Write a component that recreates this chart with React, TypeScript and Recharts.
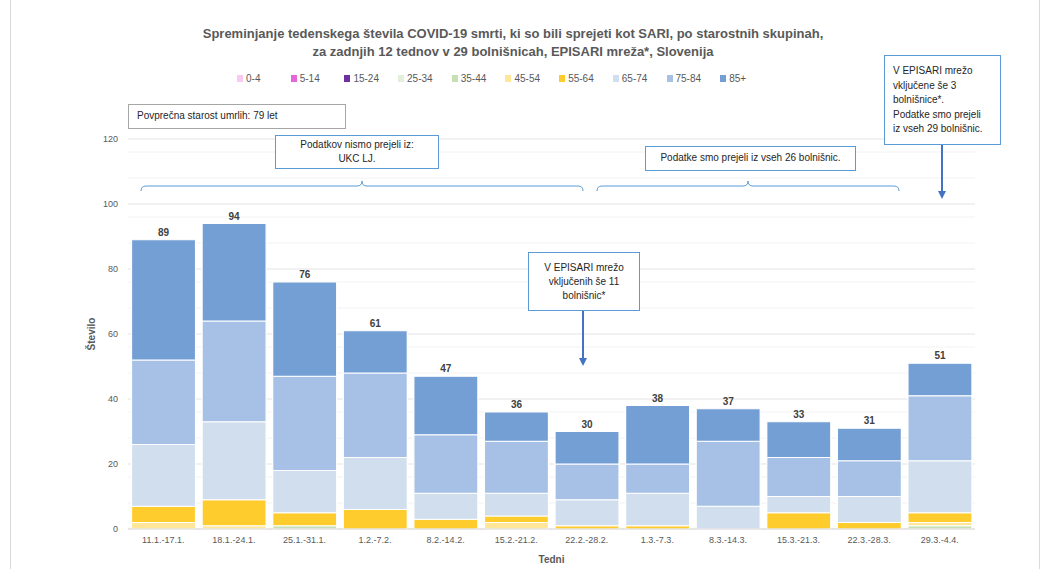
import React from 'react';
import { BarChart, Bar, XAxis, YAxis, CartesianGrid, LabelList } from 'recharts';

const weeks = ['11.1.-17.1.', '18.1.-24.1.', '25.1.-31.1.', '1.2.-7.2.', '8.2.-14.2.', '15.2.-21.2.', '22.2.-28.2.', '1.3.-7.3.', '8.3.-14.3.', '15.3.-21.3.', '22.3.-28.3.', '29.3.-4.4.'];

const age0_4 = [0, 0, 0, 0, 0, 0, 0, 0, 0, 0, 0, 0];
const age5_14 = [0, 0, 0, 0, 0, 0, 0, 0, 0, 0, 0, 0];
const age15_24 = [0, 0, 0, 0, 0, 0, 0, 0, 0, 0, 0, 0];
const age25_34 = [0, 0, 0, 0, 0, 0, 0, 0, 0, 0, 0, 0];
const age35_44 = [0, 0, 1, 0, 0, 0, 0, 0, 0, 0, 0, 1];
const age45_54 = [2, 1, 0, 0, 0, 2, 0, 0, 0, 0, 0, 1];
const age55_64 = [5, 8, 4, 6, 3, 2, 1, 1, 0, 5, 2, 3];
const age65_74 = [19, 24, 13, 16, 8, 7, 8, 10, 7, 5, 8, 16];
const age75_84 = [26, 31, 29, 26, 18, 16, 11, 9, 20, 12, 11, 20];
const age85 = [37, 30, 29, 13, 18, 9, 10, 18, 10, 11, 10, 10];
const totals = [89, 94, 76, 61, 47, 36, 30, 38, 37, 33, 31, 51];

const yTicks = [0, 20, 40, 60, 80, 100, 120];
const minorGrid = [4, 8, 12, 16, 24, 28, 32, 36, 44, 48, 52, 56, 64, 68, 72, 76, 84, 88, 92, 96, 104, 108, 112, 116];

const series = [
  { key: 'a0', name: '0-4', values: age0_4, color: '#f9c9f3' },
  { key: 'a5', name: '5-14', values: age5_14, color: '#e566d8' },
  { key: 'a15', name: '15-24', values: age15_24, color: '#7030a0' },
  { key: 'a25', name: '25-34', values: age25_34, color: '#e2efda' },
  { key: 'a35', name: '35-44', values: age35_44, color: '#c6e0b4' },
  { key: 'a45', name: '45-54', values: age45_54, color: '#ffe699' },
  { key: 'a55', name: '55-64', values: age55_64, color: '#ffcc2e' },
  { key: 'a65', name: '65-74', values: age65_74, color: '#d1deee' },
  { key: 'a75', name: '75-84', values: age75_84, color: '#a6c1e5' },
  { key: 'a85', name: '85+', values: age85, color: '#749fd5' },
];

const data = weeks.map((week, i) => {
  const row: Record<string, string | number> = { week, total: totals[i] };
  series.forEach((s) => { row[s.key] = s.values[i]; });
  return row;
});

const FONT = '"Liberation Sans", Arial, sans-serif';
const BLUE = '#5b9bd5';
const ARROW = '#4472c4';

function LegendRow() {
  return (
    <div style={{ display: 'flex', position: 'absolute', left: 237, top: 73 }}>
      {series.map((s) => (
        <div key={s.key} style={{ width: 53.7, display: 'flex', alignItems: 'center', fontSize: 10, color: '#595959', fontFamily: FONT }}>
          <span style={{ width: 6, height: 7, background: s.color, display: 'inline-block', marginRight: 3 }} />
          {s.name}
        </div>
      ))}
    </div>
  );
}

function brace(x1: number, x2: number, y: number) {
  const m = (x1 + x2) / 2;
  return `M ${x1} ${y + 5} Q ${x1} ${y} ${x1 + 5} ${y} L ${m - 5} ${y} Q ${m} ${y} ${m} ${y - 5} Q ${m} ${y} ${m + 5} ${y} L ${x2 - 5} ${y} Q ${x2} ${y} ${x2} ${y + 5}`;
}

const boxText: React.CSSProperties = {
  position: 'absolute',
  background: '#fff',
  fontFamily: FONT,
  fontSize: 10,
  color: '#262626',
  boxSizing: 'border-box',
  lineHeight: '14px',
};

export default function App() {
  return (
    <div style={{ position: 'absolute', left: 0, top: 0, width: 1058, height: 569, background: '#fff', overflow: 'hidden' }}>
      <div style={{ position: 'absolute', left: 10, top: -1, width: 1030, height: 572, border: '1px solid #d9d9d9', boxSizing: 'border-box' }} />
      <div style={{ position: 'absolute', left: 0, top: 25, width: 1026, textAlign: 'center', fontFamily: FONT, fontWeight: 'bold', fontSize: 13, color: '#595959', lineHeight: '18px' }}>
        Spreminjanje tedenskega števila COVID-19 smrti, ki so bili sprejeti kot SARI, po starostnih skupinah,<br />
        za zadnjih 12 tednov v 29 bolnišnicah, EPISARI mreža*, Slovenija
      </div>
      <LegendRow />
      <BarChart
        width={1058}
        height={569}
        data={data}
        margin={{ top: 139, right: 83, bottom: 0, left: 83 }}
        barCategoryGap="5%"
        style={{ position: 'absolute', left: 0, top: 0, fontFamily: FONT }}
      >
        <CartesianGrid vertical={false} horizontalValues={minorGrid} stroke="#f2f2f2" />
        <CartesianGrid vertical={false} horizontalValues={yTicks} stroke="#e3e3e3" />
        <XAxis
          dataKey="week"
          height={40}
          tickLine={false}
          tickSize={0}
          tickMargin={8}
          axisLine={{ stroke: '#d9d9d9' }}
          tick={{ fill: '#595959', fontSize: 9 }}
          interval={0}
          label={{ value: 'Tedni', position: 'insideBottom', offset: 6, fill: '#595959', fontSize: 10, fontWeight: 'bold' }}
        />
        <YAxis
          width={45}
          domain={[0, 120]}
          ticks={yTicks}
          tickLine={false}
          axisLine={false}
          tickSize={0}
          tickMargin={10}
          tick={{ fill: '#595959', fontSize: 9 }}
          label={{ value: 'Število', angle: -90, position: 'insideLeft', offset: 8, fill: '#595959', fontSize: 10, fontWeight: 'bold', style: { textAnchor: 'middle' } }}
        />
        {series.map((s) => (
          <Bar key={s.key} dataKey={s.key} name={s.name} stackId="a" fill={s.color} stroke="#fff" strokeWidth={1.2} isAnimationActive={false}>
            {s.key === 'a85' && (
              <LabelList dataKey="total" position="top" offset={4} fill="#404040" fontSize={10} fontWeight="bold" />
            )}
          </Bar>
        ))}
      </BarChart>

      <svg width={1058} height={569} style={{ position: 'absolute', left: 0, top: 0, pointerEvents: 'none' }}>
        <path d={brace(141, 583, 186)} fill="none" stroke={BLUE} strokeWidth={1} />
        <path d={brace(597, 899, 186)} fill="none" stroke={BLUE} strokeWidth={1} />
        <defs>
          <marker id="ah" markerWidth="8" markerHeight="8" refX="4" refY="4" orient="auto" markerUnits="userSpaceOnUse">
            <path d="M0,0 L8,4 L0,8 z" fill={ARROW} />
          </marker>
        </defs>
        <line x1={583} y1={311} x2={583} y2={362} stroke={ARROW} strokeWidth={2} markerEnd="url(#ah)" />
        <line x1={942} y1={145} x2={942} y2={195} stroke={ARROW} strokeWidth={2} markerEnd="url(#ah)" />
      </svg>

      <div style={{ ...boxText, left: 128, top: 104, width: 218, height: 25, border: '1px solid #a6a6a6', padding: '4px 8px' }}>
        Povprečna starost umrlih: 79 let
      </div>
      <div style={{ ...boxText, left: 275, top: 135, width: 164, height: 34, border: `1px solid ${BLUE}`, textAlign: 'center', paddingTop: 2 }}>
        Podatkov nismo prejeli iz:<br />UKC LJ.
      </div>
      <div style={{ ...boxText, left: 645, top: 146, width: 211, height: 25, border: `1px solid ${BLUE}`, textAlign: 'center', paddingTop: 4 }}>
        Podatke smo prejeli iz vseh 26 bolnišnic.
      </div>
      <div style={{ ...boxText, left: 528, top: 252, width: 112, height: 59, border: `1px solid ${BLUE}`, textAlign: 'center', paddingTop: 8 }}>
        V EPISARI mrežo<br />vključenih še 11<br />bolnišnic*
      </div>
      <div style={{ ...boxText, left: 884, top: 55, width: 117, height: 90, border: `1px solid ${BLUE}`, padding: '8px 0 0 8px', lineHeight: '14.5px' }}>
        V EPISARI mrežo<br />vključene še 3<br />bolnišnice*.<br />Podatke smo prejeli<br />iz vseh 29 bolnišnic.
      </div>
    </div>
  );
}
